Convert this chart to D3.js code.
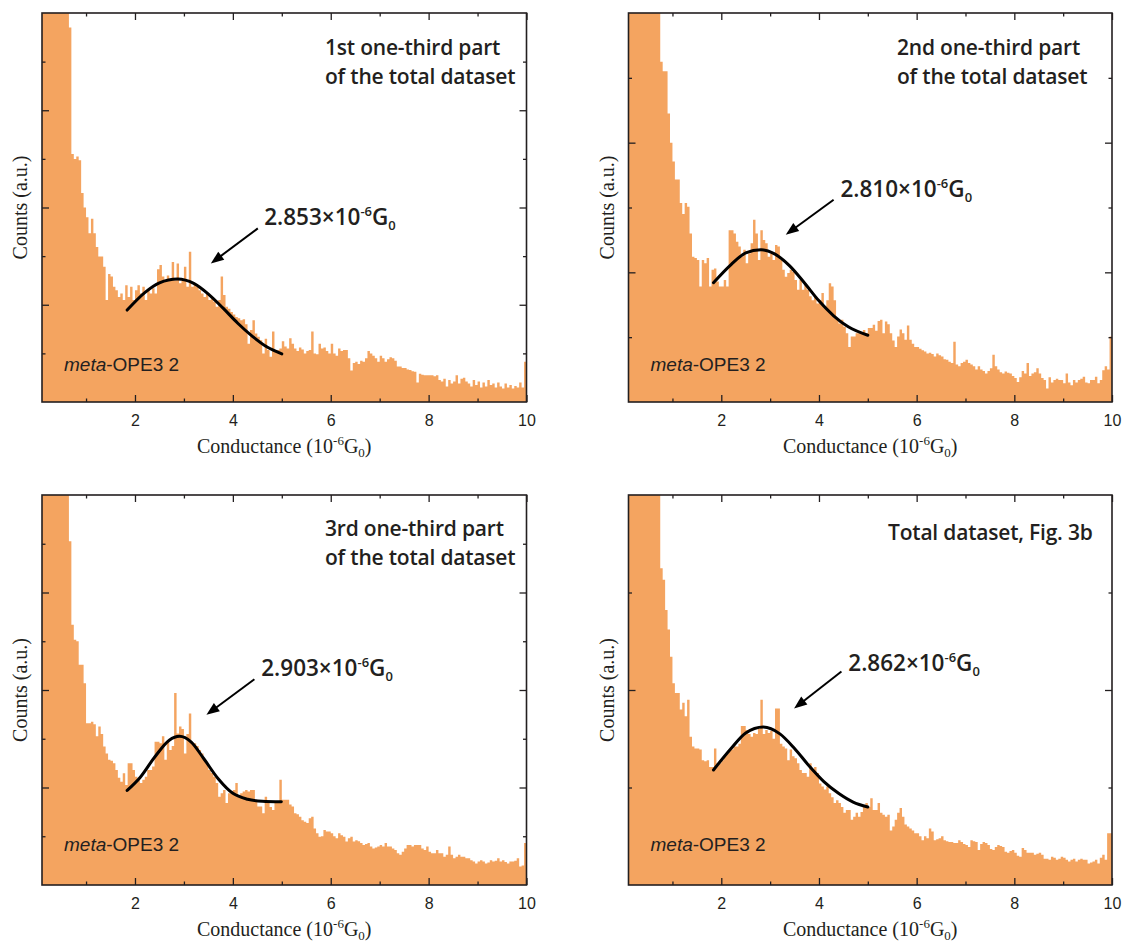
<!DOCTYPE html>
<html>
<head>
<meta charset="utf-8">
<script src="https://cdn.jsdelivr.net/npm/d3@7"></script>
<style>
  body { margin: 0; background: #fff; }
</style>
</head>
<body>
<div id="chart"></div>
<script>
// histogram bins: left edge of first bin and bin width (conductance, 1e-6 G0)
const binStart = 0.1;
const binWidth = 0.05;

// counts per bin (a.u., first bins run off the top)
const counts1 = [
  16,16,15,15,14,13,12,11,10.5,10,9,7.7,5.1,5.0,5.05,4.97,4.3,4.0,
  3.8,3.47,3.77,3.47,3.19,2.99,2.99,2.78,2.1,2.63,2.58,2.37,2.3,2.16,2.23,2.1,2.4,2.16,2.37,2.1,
  2.3,2.4,2.23,2.37,2.1,2.3,2.23,2.34,2.23,2.73,2.82,2.58,2.5,2.6,2.5,2.88,2.5,2.85,2.44,2.5,
  2.78,2.37,3.09,2.37,2.44,2.37,2.3,2.23,2.16,2.23,2.1,2.13,2.06,1.96,2.1,2.58,2.2,1.96,1.92,1.85,
  1.8,1.75,1.72,1.68,1.7,1.6,1.2,1.48,1.68,1.41,1.34,1.27,1.0,1.3,1.07,0.93,1.45,1.03,1.07,1.1,
  1.25,1.14,1.1,1.31,1.2,1.1,1.05,1.12,1.08,1.0,1.05,1.07,1.45,1.0,0.98,1.2,1.1,1.12,1.05,1.0,
  1.2,1.0,0.95,1.1,1.05,1.07,1.07,0.9,0.65,0.8,0.83,0.78,0.85,0.83,0.9,1.05,1.0,0.95,0.9,0.83,
  0.95,0.9,0.83,0.88,0.92,0.9,0.85,0.73,0.73,0.7,0.7,0.67,0.66,0.63,0.62,0.4,0.58,0.56,0.55,0.55,
  0.55,0.55,0.53,0.55,0.45,0.42,0.48,0.32,0.45,0.38,0.42,0.55,0.38,0.48,0.5,0.42,0.38,0.32,0.45,0.35,
  0.42,0.3,0.4,0.32,0.45,0.35,0.38,0.3,0.4,0.32,0.28,0.38,0.3,0.35,0.28,0.33,0.3,0.4,0.3,0.83
];
const counts2 = [
  9,9,8.5,8.5,8,8,7.5,7.5,7,7,6.8,6.6,6.4,5.25,5.1,5.1,4.45,4.0,
  3.71,3.43,3.43,3.07,2.9,3.07,3.01,2.6,2.24,2.22,2.19,1.78,2.19,2.14,2.22,1.78,2.04,2.06,1.86,1.78,
  1.78,1.88,1.78,2.65,2.65,2.6,2.47,2.4,2.24,2.35,2.14,2.29,2.45,2.81,2.6,2.19,2.65,2.5,2.45,2.24,
  2.29,2.19,2.42,2.4,2.19,2.04,1.93,1.99,2.04,2.01,1.88,1.73,1.88,1.73,1.83,1.73,1.63,1.57,1.63,1.52,
  1.57,1.68,1.47,1.57,1.83,1.78,1.57,1.27,1.21,1.27,1.16,1.06,0.85,1.01,1.01,1.06,1.06,1.06,1.11,1.06,
  1.14,1.14,1.19,1.1,1.25,1.27,1.06,1.24,1.2,1.06,0.95,0.85,1.01,1.12,1.06,0.96,1.18,0.96,0.9,0.85,
  0.85,0.82,0.8,0.78,0.75,0.76,0.74,0.7,0.75,0.72,0.7,0.66,0.65,0.62,0.6,0.93,0.58,0.55,0.6,0.62,
  0.65,0.6,0.58,0.55,0.5,0.55,0.5,0.48,0.44,0.48,0.52,0.73,0.55,0.5,0.46,0.44,0.47,0.45,0.44,0.4,
  0.37,0.31,0.38,0.48,0.44,0.6,0.4,0.44,0.46,0.52,0.44,0.37,0.34,0.21,0.38,0.3,0.34,0.36,0.34,0.34,
  0.29,0.44,0.3,0.26,0.34,0.3,0.34,0.36,0.39,0.3,0.29,0.34,0.34,0.39,0.29,0.34,0.49,0.55,0.5,1.01
];
const counts3 = [
  16,16,15,15,14,13,12,11,10.5,10,9,7.05,5.34,5.03,5.0,4.52,4.52,4.14,
  3.32,3.32,3.35,3.3,3.05,3.25,3.1,2.84,2.7,2.57,2.55,2.5,2.36,2.2,2.12,2.29,2.05,2.5,2.5,2.36,
  2.22,2.15,2.09,2.16,2.22,2.36,2.36,2.43,2.94,2.94,2.91,3.05,2.57,2.94,2.77,2.85,3.94,3.11,3.25,3.2,
  2.7,3.1,3.52,2.91,2.91,2.85,2.77,2.7,2.57,2.5,2.36,2.3,2.22,2.09,1.81,1.88,1.95,1.68,1.88,1.92,
  1.95,2.09,1.81,1.88,1.92,1.95,1.92,1.95,1.95,1.75,1.61,1.61,1.47,1.81,1.68,1.6,1.54,1.68,1.68,2.16,
  1.75,1.75,1.75,1.65,1.61,1.47,1.45,1.4,1.33,1.3,1.27,1.37,1.4,1.16,1.06,0.99,1.0,1.13,1.1,1.1,
  1.06,1.0,0.96,1.06,1.02,0.99,0.89,0.96,0.99,0.89,0.92,0.9,0.86,0.82,0.84,0.86,0.79,0.75,0.77,0.79,
  0.82,0.79,0.86,0.79,0.79,0.75,0.72,0.65,0.62,0.68,0.75,0.82,0.82,0.79,0.82,0.82,0.82,0.75,0.72,0.79,
  0.68,0.65,0.65,0.72,0.65,0.65,0.58,0.62,0.79,0.62,0.55,0.58,0.62,0.58,0.58,0.55,0.55,0.51,0.48,0.44,
  0.48,0.51,0.48,0.44,0.46,0.51,0.48,0.5,0.55,0.48,0.51,0.47,0.44,0.48,0.48,0.5,0.55,0.38,0.4,0.86
];
const counts4 = [
  7,7,6.5,6.5,6,6,5.5,5.5,5,5,4.8,4.6,4.4,3.25,3.13,2.82,2.62,2.34,
  2.07,1.97,1.97,1.8,1.87,1.73,1.9,1.52,1.42,1.4,1.4,1.39,1.28,1.27,1.28,1.21,1.21,1.4,1.25,1.25,
  1.28,1.32,1.35,1.39,1.39,1.42,1.42,1.45,1.63,1.63,1.59,1.55,1.52,1.56,1.55,1.6,1.9,1.55,1.59,1.56,
  1.58,1.5,1.81,1.81,1.45,1.42,1.4,1.28,1.39,1.32,1.3,1.25,1.18,1.15,1.15,1.11,1.25,1.18,1.21,1.15,
  1.04,1.01,0.98,1.01,0.94,0.9,0.84,0.87,0.84,0.8,0.74,0.77,0.77,0.67,0.7,0.74,0.7,0.75,0.8,0.84,
  0.8,0.89,0.77,0.77,0.84,0.74,0.72,0.7,0.72,0.56,0.6,0.67,0.74,0.79,0.7,0.62,0.6,0.58,0.56,0.53,
  0.53,0.5,0.46,0.5,0.48,0.58,0.55,0.46,0.47,0.48,0.5,0.46,0.45,0.44,0.44,0.43,0.43,0.46,0.44,0.42,
  0.41,0.39,0.46,0.45,0.44,0.36,0.42,0.44,0.43,0.41,0.37,0.36,0.39,0.41,0.4,0.39,0.34,0.33,0.35,0.36,
  0.33,0.3,0.29,0.38,0.36,0.33,0.33,0.33,0.31,0.32,0.33,0.31,0.27,0.27,0.26,0.29,0.28,0.26,0.27,0.29,
  0.28,0.26,0.24,0.26,0.27,0.24,0.26,0.27,0.26,0.26,0.22,0.23,0.24,0.26,0.22,0.28,0.31,0.26,0.53,0.53
];

// gaussian fit curves
const fitX1 = [1.84, 2.2, 2.5, 2.87, 3.2, 3.5, 3.8, 4.1, 4.4, 4.7, 5.0];
const fitY1 = [1.89, 2.25, 2.45, 2.53, 2.44, 2.22, 1.93, 1.62, 1.35, 1.13, 0.99];
const fitX2 = [1.84, 2.2, 2.5, 2.81, 3.1, 3.4, 3.7, 4.0, 4.3, 4.6, 5.0];
const fitY2 = [1.84, 2.12, 2.3, 2.35, 2.28, 2.1, 1.84, 1.56, 1.33, 1.16, 1.03];
const fitX3 = [1.84, 2.1, 2.4, 2.7, 2.91, 3.15, 3.4, 3.7, 4.0, 4.3, 4.6, 4.99];
const fitY3 = [1.94, 2.2, 2.62, 2.97, 3.05, 2.93, 2.6, 2.18, 1.88, 1.76, 1.72, 1.71];
const fitX4 = [1.84, 2.2, 2.5, 2.86, 3.2, 3.5, 3.8, 4.1, 4.4, 4.7, 5.0];
const fitY4 = [1.18, 1.4, 1.56, 1.62, 1.55, 1.4, 1.22, 1.06, 0.94, 0.85, 0.8];

const peakValues = ["2.853", "2.810", "2.903", "2.862"];
const panelTitles = [
  ["1st one-third part", "of the total dataset"],
  ["2nd one-third part", "of the total dataset"],
  ["3rd one-third part", "of the total dataset"],
  ["Total dataset, Fig. 3b"]
];
const yTop = [8, 6, 8, 4];
const xMajor = [2, 4, 6, 8, 10];
const xMinor = [1, 3, 5, 7, 9];
const sampleName = "meta";
const sampleRest = "-OPE3 2";

const width = 1122, height = 945;
const orange = "#f4a460";
const ink = "#231f20";

// panel frames and annotation spots (annotation spots in data units)
const layout = [
  {left: 42, right: 526.5, top: 13, bottom: 402, titleX: 325, titleY: [55, 84], metaY: 371,
   arrow: [4.51, 3.57, 3.55, 2.85], label: [4.64, 3.63]},
  {left: 628.5, right: 1112, top: 13, bottom: 402, titleX: 897, titleY: [55, 84], metaY: 371,
   arrow: [4.30, 3.12, 3.32, 2.58], label: [4.44, 3.16]},
  {left: 42, right: 526.5, top: 495, bottom: 885, titleX: 325, titleY: [536, 565], metaY: 851,
   arrow: [4.44, 4.22, 3.46, 3.49], label: [4.58, 4.28]},
  {left: 628.5, right: 1112, top: 495, bottom: 885, titleX: 888, titleY: [540], metaY: 851,
   arrow: [4.46, 2.19, 3.49, 1.81], label: [4.6, 2.19]}
];

const allCounts = [counts1, counts2, counts3, counts4];
const allFitX = [fitX1, fitX2, fitX3, fitX4];
const allFitY = [fitY1, fitY2, fitY3, fitY4];

const svg = d3.select("#chart").append("svg")
  .attr("width", width)
  .attr("height", height)
  .style("background", "#fff");

layout.forEach((p, i) => drawPanel(p, i));

function drawPanel(p, i) {
  let g = svg.append("g");

  let x = d3.scaleLinear().domain([binStart, 10]).range([p.left, p.right]);
  let y = d3.scaleLinear().domain([0, yTop[i]]).range([p.bottom, p.top]);

  g.append("clipPath").attr("id", "clip" + i)
    .append("rect")
    .attr("x", p.left).attr("y", p.top)
    .attr("width", p.right - p.left).attr("height", p.bottom - p.top);

  // histogram as one stepped area so bars have no seams
  let counts = allCounts[i];
  let bins = counts.map((c, k) => ({x0: binStart + k * binWidth, c: c}));
  bins.push({x0: binStart + counts.length * binWidth, c: counts[counts.length - 1]});

  g.append("path")
    .datum(bins)
    .attr("clip-path", "url(#clip" + i + ")")
    .attr("fill", orange)
    .attr("d", d3.area()
      .x(d => x(d.x0))
      .y0(y(0))
      .y1(d => y(d.c))
      .curve(d3.curveStepAfter));

  // fit
  let fit = allFitX[i].map((fx, k) => [fx, allFitY[i][k]]);
  g.append("path")
    .datum(fit)
    .attr("fill", "none")
    .attr("stroke", "#000")
    .attr("stroke-width", 3)
    .attr("stroke-linecap", "round")
    .attr("d", d3.line().x(d => x(d[0])).y(d => y(d[1])).curve(d3.curveMonotoneX));

  // axes, ticks pointing inwards; even = long, odd = short
  let yMajor = d3.range(2, yTop[i], 2);
  let yMinor = d3.range(1, yTop[i], 2);

  let addAxis = (axis, tr) => {
    let a = g.append("g").attr("transform", tr).call(axis);
    a.select(".domain").remove();
    a.selectAll(".tick line").attr("stroke", ink).attr("stroke-width", 1.3);
    return a;
  };

  let bottomAxis = addAxis(d3.axisBottom(x).tickValues(xMajor).tickSize(-7).tickPadding(13)
    .tickFormat(d3.format("d")), "translate(0," + p.bottom + ")");
  bottomAxis.selectAll("text")
    .attr("font-family", "'Liberation Sans', Arial, sans-serif")
    .attr("font-size", 16)
    .attr("fill", ink);
  addAxis(d3.axisBottom(x).tickValues(xMinor).tickSize(-3.5).tickFormat(""), "translate(0," + p.bottom + ")");
  addAxis(d3.axisTop(x).tickValues(xMajor).tickSize(-7).tickFormat(""), "translate(0," + p.top + ")");
  addAxis(d3.axisTop(x).tickValues(xMinor).tickSize(-3.5).tickFormat(""), "translate(0," + p.top + ")");
  addAxis(d3.axisLeft(y).tickValues(yMajor).tickSize(-7).tickFormat(""), "translate(" + p.left + ",0)");
  addAxis(d3.axisLeft(y).tickValues(yMinor).tickSize(-3.5).tickFormat(""), "translate(" + p.left + ",0)");
  addAxis(d3.axisRight(y).tickValues(yMajor).tickSize(-7).tickFormat(""), "translate(" + p.right + ",0)");
  addAxis(d3.axisRight(y).tickValues(yMinor).tickSize(-3.5).tickFormat(""), "translate(" + p.right + ",0)");

  g.append("rect")
    .attr("x", p.left).attr("y", p.top)
    .attr("width", p.right - p.left).attr("height", p.bottom - p.top)
    .attr("fill", "none")
    .attr("stroke", ink)
    .attr("stroke-width", 1.6);

  // axis titles
  let xt = g.append("text")
    .attr("x", (p.left + p.right) / 2)
    .attr("y", p.bottom + 51)
    .attr("text-anchor", "middle")
    .attr("font-family", "'Liberation Serif', 'Times New Roman', serif")
    .attr("font-size", 20)
    .attr("fill", ink);
  xt.append("tspan").text("Conductance (10");
  xt.append("tspan").attr("dy", -8).attr("font-size", 13).text("-6");
  xt.append("tspan").attr("dy", 8).text("G");
  xt.append("tspan").attr("dy", 4).attr("font-size", 13).text("0");
  xt.append("tspan").attr("dy", -4).text(")");

  g.append("text")
    .attr("transform", "translate(" + (p.left - 15) + "," + ((p.top + p.bottom) / 2) + ") rotate(-90)")
    .attr("text-anchor", "middle")
    .attr("font-family", "'Liberation Serif', 'Times New Roman', serif")
    .attr("font-size", 20)
    .attr("fill", ink)
    .text("Counts (a.u.)");

  // panel title
  let tt = g.append("text")
    .attr("font-family", "'Open Sans', sans-serif")
    .attr("font-weight", 600)
    .attr("font-size", 21)
    .attr("letter-spacing", -0.2)
    .attr("fill", ink);
  panelTitles[i].forEach((line, k) => {
    tt.append("tspan").attr("x", p.titleX).attr("y", p.titleY[k]).text(line);
  });

  // sample name
  let mt = g.append("text")
    .attr("x", p.left + 22)
    .attr("y", p.metaY)
    .attr("font-family", "'Liberation Sans', Arial, sans-serif")
    .attr("font-size", 19)
    .attr("fill", ink);
  mt.append("tspan").attr("font-style", "italic").text(sampleName);
  mt.append("tspan").text(sampleRest);

  // peak label
  let pl = g.append("text")
    .attr("x", x(p.label[0]))
    .attr("y", y(p.label[1]))
    .attr("font-family", "'Open Sans', sans-serif")
    .attr("font-weight", 600)
    .attr("font-size", 22.5)
    .attr("fill", ink);
  pl.append("tspan").text(peakValues[i] + "\u00d710");
  pl.append("tspan").attr("dy", -9).attr("font-size", 13).text("-6");
  pl.append("tspan").attr("dy", 9).text("G");
  pl.append("tspan").attr("dy", 5).attr("font-size", 13).text("0");

  // arrow
  let x1 = x(p.arrow[0]), y1 = y(p.arrow[1]), x2 = x(p.arrow[2]), y2 = y(p.arrow[3]);
  let ang = Math.atan2(y2 - y1, x2 - x1);
  let hl = 13, hw = 5;
  g.append("line")
    .attr("x1", x1).attr("y1", y1)
    .attr("x2", x2 - Math.cos(ang) * (hl - 2)).attr("y2", y2 - Math.sin(ang) * (hl - 2))
    .attr("stroke", "#000")
    .attr("stroke-width", 2);
  let bx = x2 - Math.cos(ang) * hl, by = y2 - Math.sin(ang) * hl;
  g.append("path")
    .attr("d", "M" + x2 + "," + y2 +
      "L" + (bx + Math.sin(ang) * hw) + "," + (by - Math.cos(ang) * hw) +
      "L" + (bx - Math.sin(ang) * hw) + "," + (by + Math.cos(ang) * hw) + "Z")
    .attr("fill", "#000");
}
</script>
</body>
</html>
